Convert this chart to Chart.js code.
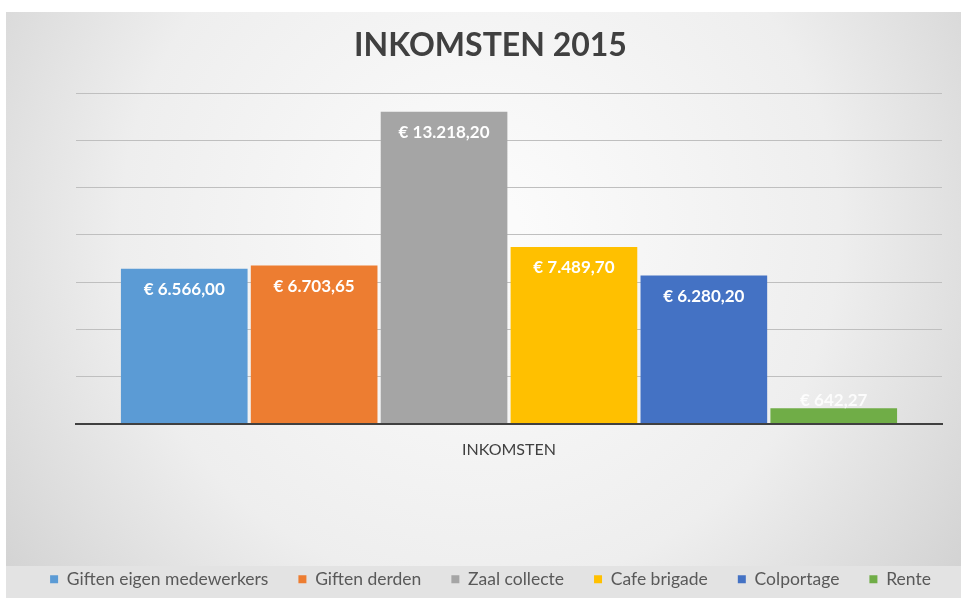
<!DOCTYPE html>
<html>
<head>
<meta charset="utf-8">
<script src="https://cdn.jsdelivr.net/npm/chart.js@4"></script>
<style>
  html, body { margin: 0; padding: 0; background: #fff; }
  #wrap { width: 961px; height: 598px; }
</style>
</head>
<body>
<div id="wrap"><canvas id="incomeChart" width="961" height="598"></canvas></div>
<script>
// Data
const categories = ['INKOMSTEN'];
const seriesNames = ['Giften eigen medewerkers', 'Giften derden', 'Zaal collecte', 'Cafe brigade', 'Colportage', 'Rente'];
const seriesValues = [6566.00, 6703.65, 13218.20, 7489.70, 6280.20, 642.27];
const seriesColors = ['#5B9BD5', '#ED7D31', '#A5A5A5', '#FFC000', '#4472C4', '#70AD47'];
const yTicks = [0, 2000, 4000, 6000, 8000, 10000, 12000, 14000];

const euro = v => '€ ' + v.toLocaleString('nl-NL', { minimumFractionDigits: 2, maximumFractionDigits: 2 });

// Background: light radial gradient + legend strip
const backgroundPlugin = {
    id: 'bg',
    beforeDraw(chart) {
        const c = chart.ctx;
        const w = chart.width, h = chart.height;
        c.save();
        c.fillStyle = '#ffffff';
        c.fillRect(0, 0, w, h);
        const g = c.createRadialGradient(480, 230, 40, 480, 230, 620);
        g.addColorStop(0, '#fbfbfb');
        g.addColorStop(0.55, '#eeeeee');
        g.addColorStop(1, '#cfcfcf');
        c.fillStyle = g;
        c.fillRect(6, 12, w - 6, h - 12);
        c.fillStyle = '#e3e3e3';
        c.fillRect(6, 566, w - 6, h - 566);
        c.restore();
    }
};

// Value labels inside the top of each bar
const valueLabels = {
    id: 'valueLabels',
    afterDatasetsDraw(chart) {
        const c = chart.ctx;
        c.save();
        c.font = 'bold 17px Lato';
        c.textAlign = 'center';
        c.textBaseline = 'middle';
        chart.data.datasets.forEach((ds, i) => {
            const bar = chart.getDatasetMeta(i).data[0];
            const hgt = bar.base - bar.y;
            if (hgt > 30) {
                c.fillStyle = '#ffffff';
                c.fillText(euro(ds.data[0]), bar.x, bar.y + 21);
            } else {
                c.fillStyle = 'rgba(255,255,255,0.85)';
                c.fillText(euro(ds.data[0]), bar.x, bar.y - 8);
            }
        });
        c.restore();
    }
};

const ctx = document.getElementById('incomeChart').getContext('2d');
const incomeChart = new Chart(ctx, {
    type: 'bar',
    data: {
        labels: categories,
        datasets: seriesNames.map((name, i) => ({
            label: name,
            data: [seriesValues[i]],
            backgroundColor: seriesColors[i],
            categoryPercentage: 0.9,
            barPercentage: 0.975
        }))
    },
    options: {
        responsive: false,
        animation: false,
        layout: { padding: { left: 20, right: 0, top: 0, bottom: 0 } },
        plugins: {
            title: {
                display: true,
                text: 'INKOMSTEN 2015',
                color: '#404040',
                font: { family: 'Lato', size: 32, weight: 'bold', lineHeight: 1.2 },
                padding: { top: 26, bottom: 29 }
            },
            legend: {
                position: 'bottom',
                labels: {
                    color: '#595959',
                    font: { family: 'Lato', size: 17.5 },
                    boxWidth: 8,
                    boxHeight: 8,
                    padding: 30
                }
            },
            tooltip: { enabled: false }
        },
        scales: {
            x: {
                grid: { display: false },
                border: { color: '#404040', width: 2 },
                ticks: { color: '#404040', font: { family: 'Lato', size: 16 }, padding: 9 },
                afterFit(scale) { scale.height = 117; }
            },
            y: {
                min: 0,
                max: 14000,
                afterBuildTicks(scale) { scale.ticks = yTicks.map(v => ({ value: v })); },
                afterFit(scale) { scale.width = 56; },
                ticks: { display: false },
                grid: { color: '#bfbfbf', lineWidth: 1, drawTicks: false },
                border: { display: false }
            },
            // empty right-hand axis, only keeps the plot edge off the border
            yRight: {
                position: 'right',
                ticks: { display: false },
                grid: { display: false, drawTicks: false },
                border: { display: false },
                afterFit(scale) { scale.width = 19; }
            }
        }
    },
    plugins: [backgroundPlugin, valueLabels]
});
</script>
</body>
</html>
